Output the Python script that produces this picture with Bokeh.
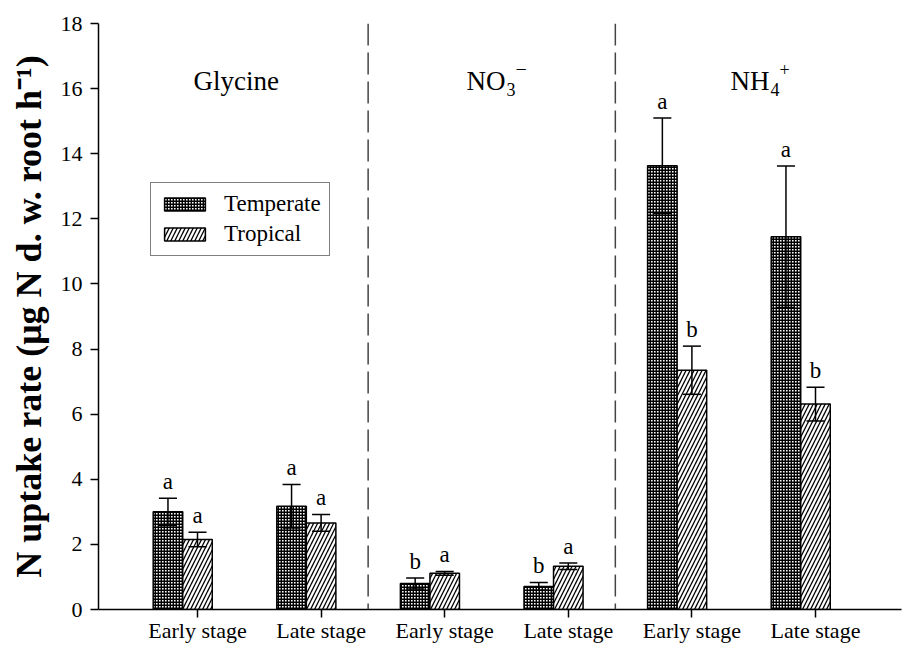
from bokeh.plotting import figure
from bokeh.models import ColumnDataSource, FixedTicker, Legend, LegendItem, Span
from bokeh.core.properties import value
from bokeh.embed import file_html
from bokeh.resources import INLINE

# ---- data ----
stages = ["Early stage", "Late stage", "Early stage", "Late stage", "Early stage", "Late stage"]
positions = [1, 2, 3, 4, 5, 6]
temperate_mean = [3.00, 3.17, 0.80, 0.71, 13.63, 11.45]
temperate_err = [0.42, 0.67, 0.17, 0.12, 1.47, 2.17]
tropical_mean = [2.15, 2.66, 1.11, 1.33, 7.35, 6.31]
tropical_err = [0.22, 0.26, 0.06, 0.10, 0.74, 0.52]
temperate_letters = ["a", "a", "b", "b", "a", "a"]
tropical_letters = ["a", "a", "a", "a", "b", "b"]
y_ticks = [0, 2, 4, 6, 8, 10, 12, 14, 16, 18]

FONT = "Liberation Serif"
BW = 0.239   # bar width (data units)
CW = 0.146   # cap width

def make_source(offset, means, errs, letters):
    xs = [p - offset for p in positions]
    return ColumnDataSource(dict(
        x=xs, top=means,
        upper=[m + e for m, e in zip(means, errs)],
        lower=[m - e for m, e in zip(means, errs)],
        cl=[x - CW / 2 for x in xs], cr=[x + CW / 2 for x in xs],
        letter=letters,
    ))

src_t = make_source(BW, temperate_mean, temperate_err, temperate_letters)
src_r = make_source(0.0, tropical_mean, tropical_err, tropical_letters)

W, H = 902, 648
ML, MR, MT, MB = 98, 1, 23, 39
p = figure(width=W, height=H, output_backend="svg", toolbar_location=None,
           x_range=(0.199, 0.199 + (W - ML - MR) / 123.6), y_range=(0, 18),
           min_border_left=ML, min_border_right=MR, min_border_top=MT, min_border_bottom=MB)
p.outline_line_color = None
p.grid.visible = False
p.background_fill_color = "white"

r_t = p.vbar(x="x", top="top", width=BW, bottom=0, source=src_t,
             fill_color="white", line_color="black", line_width=1.5,
             hatch_pattern="cross", hatch_color="black", hatch_scale=3, hatch_weight=1.8)
r_r = p.vbar(x="x", top="top", width=BW, bottom=0, source=src_r,
             fill_color="white", line_color="black", line_width=1.5,
             hatch_pattern="right_diagonal_line", hatch_color="black", hatch_scale=8, hatch_weight=1.3)

for s in (src_t, src_r):
    p.segment(x0="x", y0="lower", x1="x", y1="upper", source=s, line_color="black", line_width=1.5)
    p.segment(x0="cl", y0="upper", x1="cr", y1="upper", source=s, line_color="black", line_width=1.5)
    p.segment(x0="cl", y0="lower", x1="cr", y1="lower", source=s, line_color="black", line_width=1.5)
    p.text(x="x", y="upper", text="letter", source=s, text_align="center", text_baseline="bottom",
           y_offset=-4, text_font=value(FONT), text_font_size="23px", text_color="black")

# group dividers
for d in (2.5 - BW / 2, 4.5 - BW / 2):
    p.add_layout(Span(location=d, dimension="height", line_color="#444444", line_width=1.5,
                      line_dash="22 7"))

# group labels
LBL_Y = 16.22
def lab(x, t, xo=0, yo=0, size="27px"):
    p.text(x=[x], y=[LBL_Y], text=[t], x_offset=xo, y_offset=yo, text_align="left",
           text_baseline="alphabetic", text_font=value(FONT), text_font_size=size, text_color="black")

lab(0.968, "Glycine")
lab(3.176, "NO")
lab(3.176, "3", xo=40, yo=8, size="18px")
lab(3.176, "\u2212", xo=49, yo=-12, size="20px")
lab(5.312, "NH")
lab(5.312, "4", xo=40, yo=8, size="18px")
lab(5.312, "+", xo=49, yo=-12, size="18px")

# axes
p.xaxis.ticker = FixedTicker(ticks=positions)
p.xaxis.major_label_overrides = {pos: s for pos, s in zip(positions, stages)}
p.yaxis.ticker = FixedTicker(ticks=y_ticks)
for ax in (p.xaxis, p.yaxis):
    ax.axis_line_color = "black"
    ax.axis_line_width = 1.5
    ax.major_tick_line_color = "black"
    ax.major_tick_line_width = 1.5
    ax.major_tick_in = 0
    ax.major_tick_out = 8
    ax.minor_tick_line_color = None
    ax.major_label_text_font = FONT
    ax.major_label_text_font_size = "22px"
    ax.major_label_text_color = "black"
p.xaxis.major_label_standoff = 0
p.yaxis.major_label_standoff = 8
p.yaxis.axis_label = "N uptake rate (\u03bcg N d. w. root h\u207b\u00b9)"
p.yaxis.axis_label_text_font = FONT
p.yaxis.axis_label_text_font_style = "bold"
p.yaxis.axis_label_text_font_size = "36px"
p.yaxis.axis_label_text_color = "black"
p.yaxis.axis_label_standoff = 9

legend = Legend(items=[LegendItem(label="Temperate", renderers=[r_t]),
                       LegendItem(label="Tropical", renderers=[r_r])],
                location=(52, 353), border_line_color="black", border_line_width=1.5,
                label_text_font=FONT, label_text_font_size="23px", label_text_color="black",
                glyph_width=51, glyph_height=16,
                label_standoff=14, padding=8, spacing=4, margin=0, background_fill_alpha=1)
p.add_layout(legend)

open("out.html", "w").write(file_html(p, INLINE))
